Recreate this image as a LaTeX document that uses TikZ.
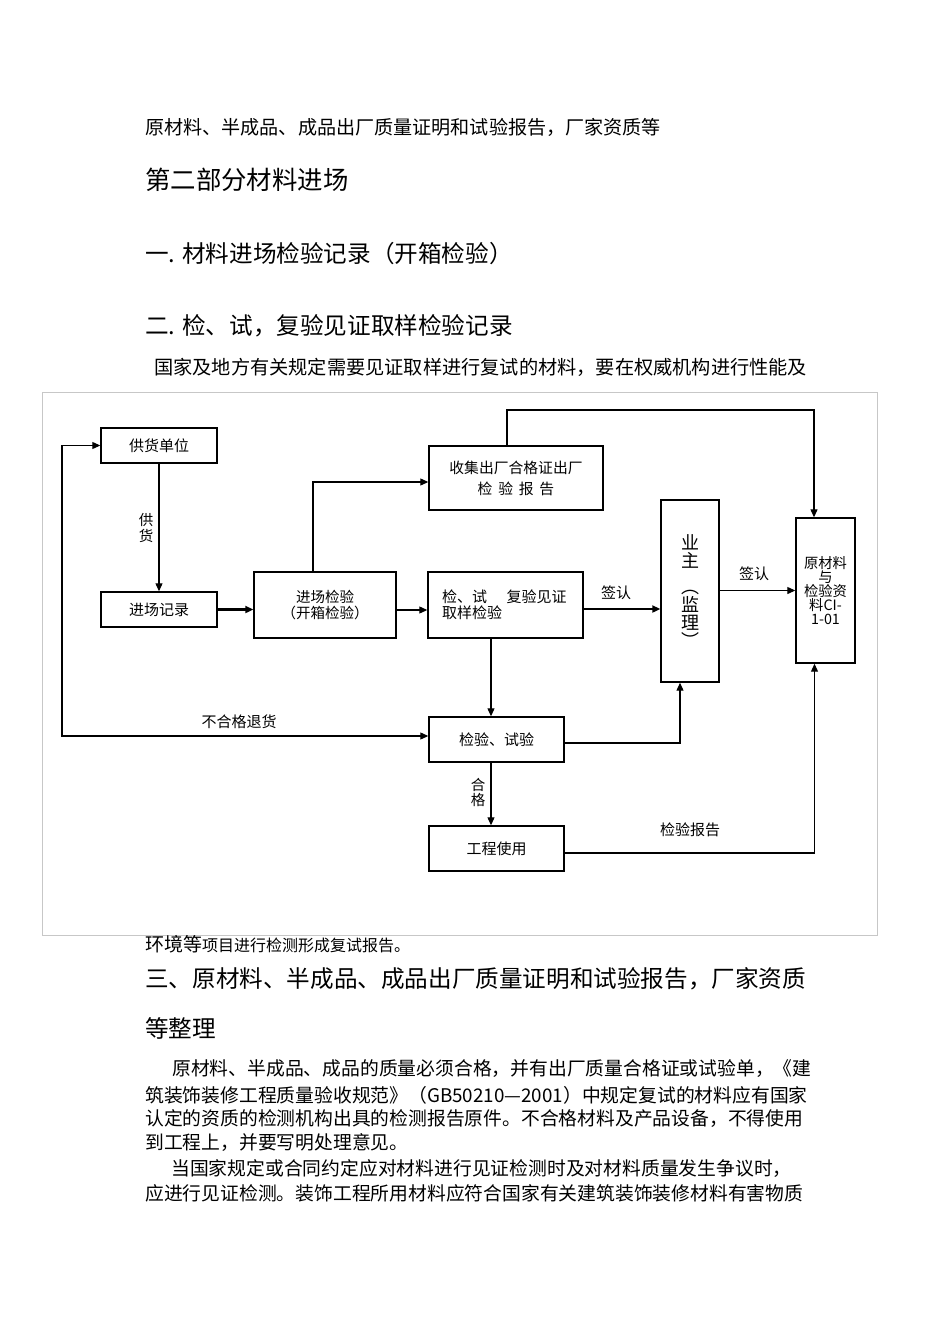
\documentclass[tikz,border=0pt]{standalone}
\usepackage{fontspec}
\setmainfont{Noto Sans CJK SC}
\usetikzlibrary{arrows.meta,positioning}

\tikzset{
  box/.style={draw, line width=1.4pt, inner sep=1pt, align=center,
    font=\fontsize{15}{16}\selectfont},
  conn/.style={line width=1.1pt, -{Triangle[length=8pt,width=7pt]}},
  boldconn/.style={conn, line width=2.2pt},
  lbl/.style={inner sep=0pt, align=center, font=\fontsize{15}{15}\selectfont},
  txt/.style={anchor=west, inner sep=0pt},
  body/.style={txt, font=\fontsize{18.8}{20}\selectfont},
  heading/.style={txt, font=\fontsize{23.6}{24}\selectfont}
}

\begin{document}
\begin{tikzpicture}[x=1pt, y=-1pt]
  \useasboundingbox (0,0) rectangle (950,1344);

  % text above the chart
  \node[body, font=\fontsize{19.1}{20}\selectfont] (top) at (145,127) {原材料、半成品、成品出厂质量证明和试验报告，厂家资质等};
  \node[txt, font=\fontsize{25.4}{26}\selectfont] (part2) at (145,180) {第二部分材料进场};
  \node[heading] (sec1) at (145,254) {一. 材料进场检验记录（开箱检验）};
  \node[heading] (sec2) at (145,326) {二. 检、试，复验见证取样检验记录};
  \node[body, font=\fontsize{19.2}{20}\selectfont] (intro) at (154,367) {国家及地方有关规定需要见证取样进行复试的材料，要在权威机构进行性能及};

  % frame of the chart
  \draw[black!22, line width=1pt] (42,392) rectangle (877,935);

  % boxes
  \node[box, minimum width=116pt, minimum height=35pt] (ghdw) at (159,445.5) {供货单位};
  \node[box, minimum width=116pt, minimum height=35pt] (jcjl) at (159,609.5) {进场记录};
  \node[box, minimum width=142pt, minimum height=66pt, font=\fontsize{14.5}{16}\selectfont] (jcjy) at (325,605) {进场检验\\（开箱检验）};
  \node[box, minimum width=174pt, minimum height=64pt, font=\fontsize{14.8}{21}\selectfont] (sjcc) at (516,478) {收集出厂合格证出厂\\检\,\ 验\,\ 报\,\ 告};
  \node[box, minimum width=155pt, minimum height=66pt, text width=127pt, inner xsep=14pt, align=left] (jsfy) at (505.5,605) {检、试\hspace{1.3em}复验见证\\取样检验};
  \node[box, minimum width=58pt, minimum height=182pt, font=\fontsize{18}{18}\selectfont] (yzjl) at (690,591) {业\\主\\[8pt]︵\\监\\理\\︶};
  \node[box, minimum width=59pt, minimum height=145pt, font=\fontsize{14.3}{14}\selectfont] (yclzl) at (825.5,590.5) {原材料\\与\\检验资\\料CI-\\1-01};
  \node[box, minimum width=135pt, minimum height=45pt] (jysy) at (496.5,739.5) {检验、试验};
  \node[box, minimum width=135pt, minimum height=45pt] (gcsy) at (496.5,848.5) {工程使用};

  \coordinate (topR) at (814,410);
  \coordinate (retL) at (62,736);

  % connectors
  \draw[conn] (ghdw) -- (jcjl);
  \node[lbl, font=\fontsize{14.5}{16}\selectfont] (gh) at (146,528) {供\\货};
  \draw[boldconn] (jcjl.east) -- (jcjl.east -| jcjy.west);
  \draw[conn] ([yshift=-5pt]jcjy.east) -- ([yshift=-5pt]jsfy.west);
  \draw[conn] ([xshift=-12pt]jcjy.north) |- ([yshift=-4pt]sjcc.west);
  \draw[conn] ([xshift=-9pt]sjcc.north) |- (topR) -- (topR |- yclzl.north);
  \draw[boldconn] ([yshift=-4pt]jsfy.east) -- ([yshift=-4pt]jsfy.east -| yzjl.west);
  \node[lbl] (qr1) at (616,593) {签认};
  \draw[conn] (yzjl.east |- yclzl.west) -- (yclzl.west);
  \node[lbl] (qr2) at (754,574) {签认};
  \draw[conn] ([xshift=-5.5pt]jysy.north |- jsfy.south) -- ([xshift=-5.5pt]jysy.north);
  \draw[conn, {Triangle[length=8pt,width=7pt]}-{Triangle[length=8pt,width=7pt]}] (ghdw.west) -| (retL) -- (retL -| jysy.west);
  \node[lbl] (bhg) at (239,722) {不合格退货};
  \draw[conn] ([yshift=-3.5pt]jysy.east) -| ([xshift=-10pt]yzjl.south);
  \draw[conn] ([xshift=-5.5pt]jysy.south) -- ([xshift=-5.5pt]gcsy.north);
  \node[lbl, font=\fontsize{14.5}{15}\selectfont] (hg) at (478,792) {合\\格};
  \draw[conn] ([yshift=-4.5pt]gcsy.east) -| ([xshift=-11pt]yclzl.south);
  \node[lbl] (jybg) at (690,830) {检验报告};

  % text below the chart
  \node[txt] (env) at (145,944) {\fontsize{19}{20}\selectfont 环境等\fontsize{16}{17}\selectfont 项目进行检测形成复试报告。};
  \node[heading] (sec3) at (145,979) {三、原材料、半成品、成品出厂质量证明和试验报告，厂家资质};
  \node[heading] (sec3b) at (145,1028) {等整理};
  \node[body] (l1) at (172,1069) {原材料、半成品、成品的质量必须合格，并有出厂质量合格证或试验单，《建};
  \node[body] (l2) at (145,1095) {筑装饰装修工程质量验收规范》（GB50210—2001）中规定复试的材料应有国家};
  \node[body] (l3) at (145,1119) {认定的资质的检测机构出具的检测报告原件。不合格材料及产品设备，不得使用};
  \node[body] (l4) at (145,1143) {到工程上，并要写明处理意见。};
  \node[body] (l5) at (171,1169) {当国家规定或合同约定应对材料进行见证检测时及对材料质量发生争议时，};
  \node[body] (l6) at (145,1193) {应进行见证检测。装饰工程所用材料应符合国家有关建筑装饰装修材料有害物质};
\end{tikzpicture}
\end{document}
